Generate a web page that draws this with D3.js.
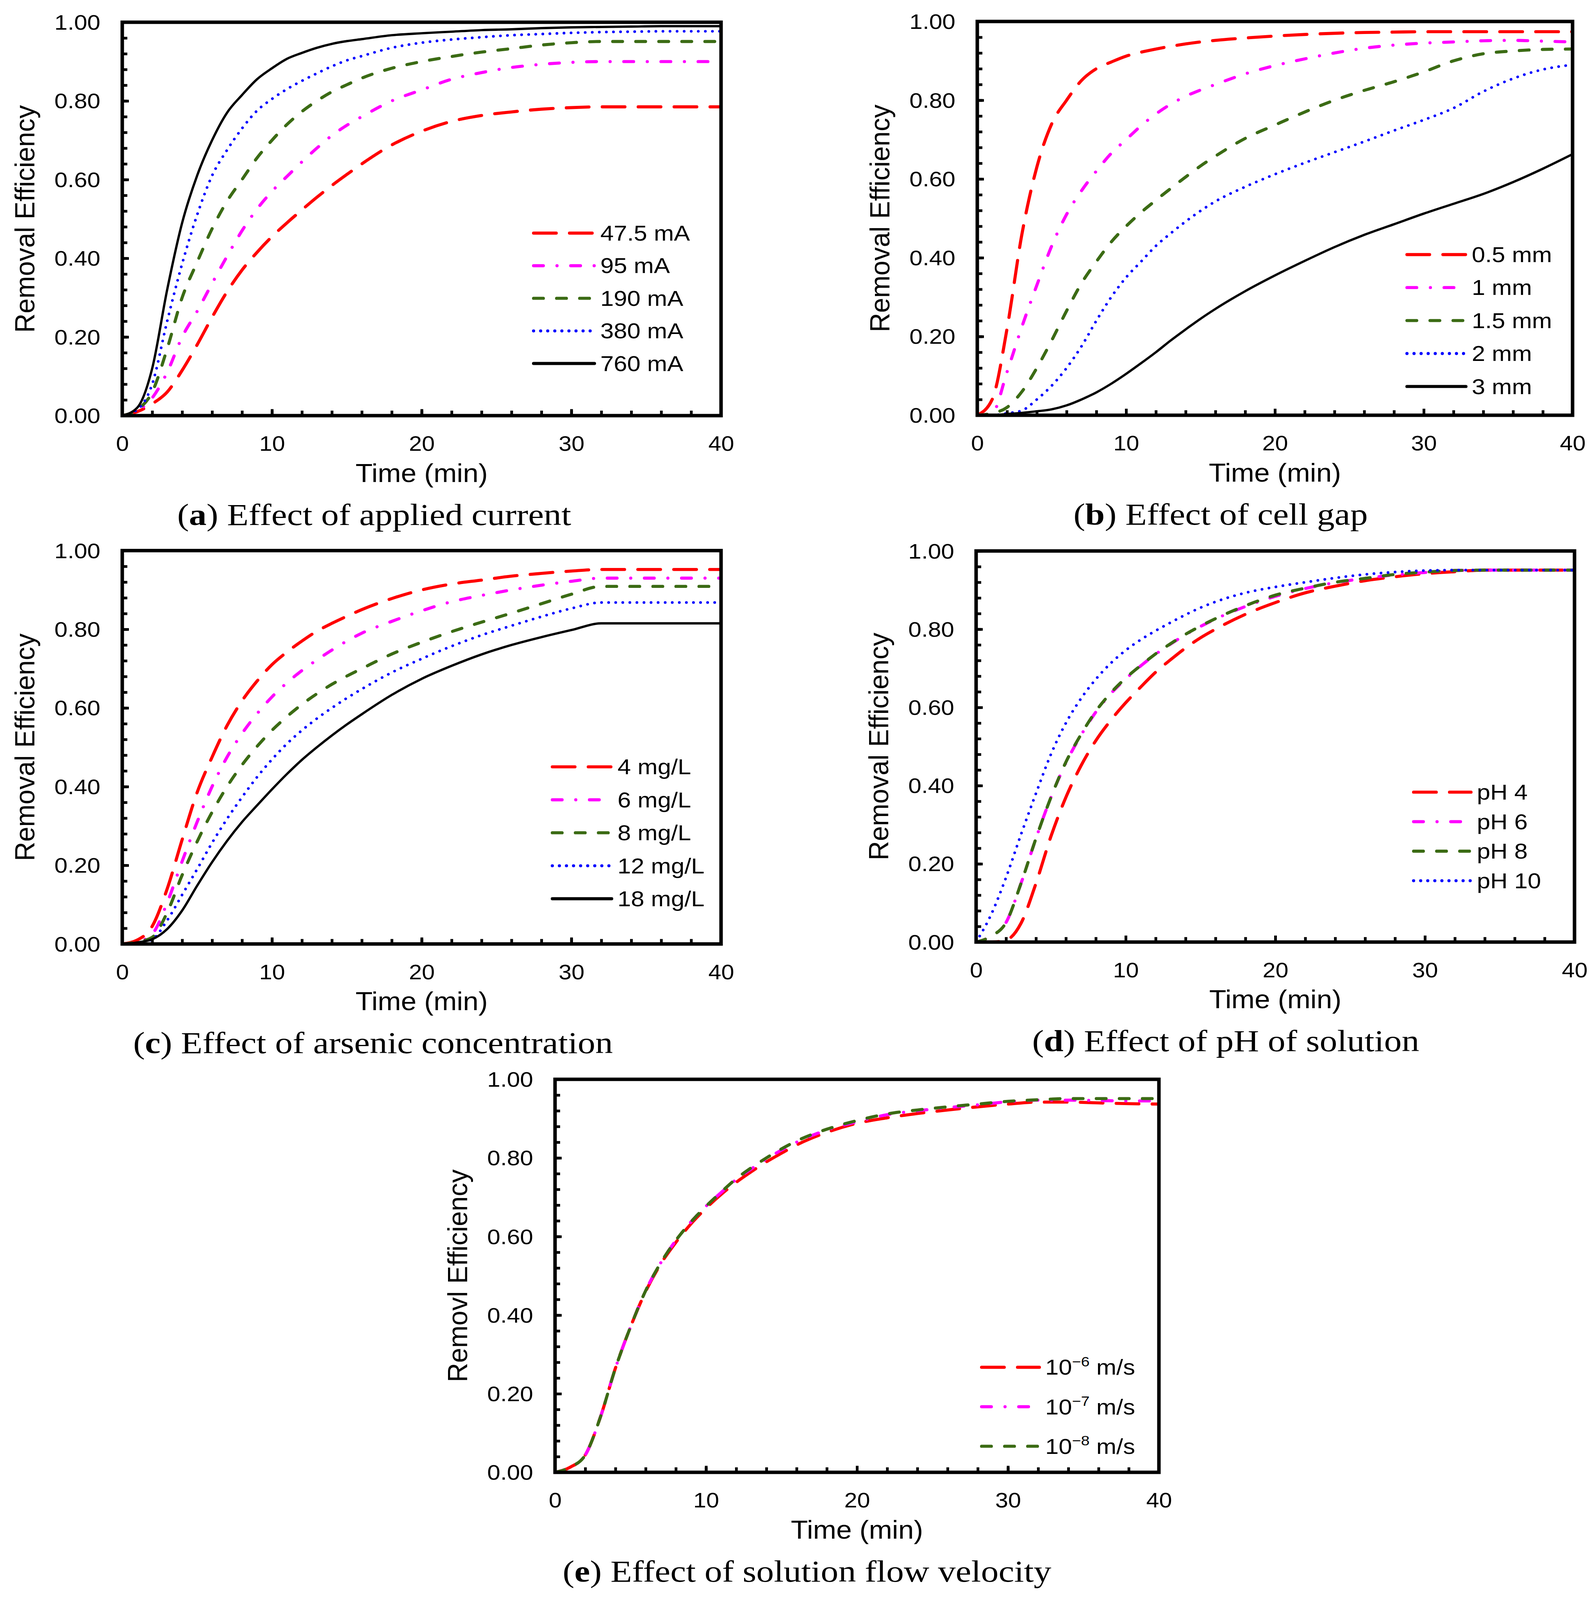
<!DOCTYPE html>
<html>
<head>
<meta charset="utf-8">
<script src="https://cdn.jsdelivr.net/npm/d3@7"></script>
<style>
html, body { margin: 0; padding: 0; background: #fff; overflow: hidden; }
svg { display: block; }
</style>
</head>
<body>
<div class="figure"></div>
<script>
// sample times shared by every panel (min)
const times = [0,1,2,3,4,5,6,7,8,9,10,11,12,13,14,15,16,18,20,22,24,26,28,30,32,34,36,38,40];

// (a) applied current
const currentLabels = ["47.5 mA", "95 mA", "190 mA", "380 mA", "760 mA"];
const current475 = [0,0.01,0.03,0.06,0.115,0.18,0.25,0.315,0.37,0.415,0.455,0.49,0.523,0.555,0.585,0.613,0.64,0.688,0.723,0.748,0.763,0.772,0.779,0.783,0.785,0.785,0.785,0.785,0.785];
const current95  = [0,0.012,0.045,0.11,0.2,0.265,0.336,0.405,0.47,0.525,0.57,0.608,0.645,0.68,0.712,0.738,0.76,0.8,0.828,0.855,0.872,0.885,0.893,0.898,0.9,0.9,0.9,0.9,0.9];
const current190 = [0,0.015,0.06,0.17,0.3,0.39,0.475,0.545,0.6,0.655,0.7,0.74,0.773,0.8,0.823,0.841,0.858,0.883,0.9,0.913,0.924,0.933,0.942,0.948,0.951,0.951,0.951,0.951,0.951];
const current380 = [0,0.015,0.08,0.24,0.386,0.51,0.61,0.675,0.73,0.775,0.805,0.83,0.851,0.87,0.888,0.903,0.914,0.935,0.948,0.956,0.962,0.967,0.97,0.973,0.975,0.976,0.977,0.977,0.977];
const current760 = [0,0.02,0.12,0.32,0.49,0.61,0.7,0.77,0.815,0.855,0.883,0.907,0.922,0.935,0.945,0.952,0.957,0.967,0.972,0.976,0.98,0.982,0.985,0.987,0.988,0.989,0.99,0.99,0.99];

// (b) cell gap
const gapLabels = ["0.5 mm", "1 mm", "1.5 mm", "2 mm", "3 mm"];
const gap05 = [0,0.04,0.22,0.46,0.63,0.74,0.8,0.85,0.88,0.897,0.912,0.922,0.93,0.937,0.943,0.948,0.952,0.958,0.963,0.967,0.97,0.972,0.973,0.974,0.974,0.974,0.974,0.974,0.974];
const gap1  = [0,0.005,0.11,0.225,0.33,0.43,0.51,0.57,0.62,0.665,0.7,0.735,0.765,0.79,0.81,0.826,0.84,0.867,0.888,0.905,0.92,0.932,0.94,0.945,0.948,0.951,0.952,0.95,0.948];
const gap15 = [0,0.005,0.02,0.06,0.12,0.19,0.265,0.335,0.39,0.44,0.48,0.515,0.546,0.576,0.605,0.633,0.658,0.703,0.737,0.77,0.8,0.825,0.847,0.872,0.9,0.918,0.925,0.929,0.93];
const gap2  = [0,0,0.005,0.012,0.04,0.075,0.12,0.175,0.24,0.3,0.35,0.39,0.43,0.462,0.492,0.519,0.543,0.58,0.612,0.641,0.668,0.695,0.723,0.75,0.78,0.822,0.855,0.878,0.89];
const gap3  = [0,0,0.003,0.006,0.01,0.015,0.025,0.04,0.058,0.08,0.105,0.132,0.16,0.19,0.218,0.245,0.27,0.315,0.355,0.392,0.427,0.458,0.485,0.512,0.537,0.562,0.592,0.626,0.663];

// (c) arsenic concentration
const concLabels = ["4 mg/L", "6 mg/L", "8 mg/L", "12 mg/L", "18 mg/L"];
const conc4  = [0,0.01,0.045,0.14,0.265,0.385,0.475,0.555,0.618,0.668,0.71,0.742,0.77,0.795,0.815,0.833,0.85,0.878,0.9,0.915,0.925,0.935,0.942,0.948,0.952,0.952,0.952,0.952,0.952];
const conc6  = [0,0.005,0.025,0.105,0.21,0.31,0.4,0.475,0.535,0.585,0.628,0.664,0.695,0.722,0.747,0.77,0.79,0.82,0.847,0.87,0.886,0.9,0.912,0.922,0.93,0.93,0.93,0.93,0.93];
const conc8  = [0,0.005,0.017,0.08,0.175,0.26,0.335,0.4,0.455,0.502,0.543,0.578,0.609,0.636,0.66,0.681,0.7,0.737,0.767,0.794,0.818,0.841,0.865,0.889,0.909,0.909,0.909,0.909,0.909];
const conc12 = [0,0.003,0.012,0.06,0.125,0.19,0.257,0.318,0.373,0.424,0.469,0.509,0.543,0.573,0.6,0.625,0.648,0.69,0.725,0.757,0.785,0.809,0.832,0.853,0.868,0.868,0.868,0.868,0.868];
const conc18 = [0,0.004,0.012,0.038,0.085,0.148,0.208,0.262,0.31,0.352,0.393,0.432,0.468,0.5,0.53,0.558,0.584,0.633,0.674,0.707,0.736,0.76,0.78,0.798,0.815,0.815,0.815,0.815,0.815];

// (d) pH of solution
const phLabels = ["pH 4", "pH 6", "pH 8", "pH 10"];
const ph4  = [0,0,0.005,0.048,0.15,0.27,0.37,0.45,0.515,0.567,0.612,0.652,0.69,0.722,0.752,0.778,0.8,0.838,0.868,0.893,0.91,0.924,0.934,0.942,0.947,0.951,0.951,0.951,0.951];
const ph6  = [0,0.015,0.05,0.15,0.265,0.37,0.458,0.528,0.588,0.635,0.673,0.706,0.736,0.762,0.786,0.807,0.826,0.858,0.884,0.904,0.919,0.93,0.939,0.945,0.95,0.951,0.951,0.951,0.951];
const ph8  = [0,0.015,0.05,0.15,0.265,0.37,0.46,0.53,0.59,0.637,0.675,0.707,0.737,0.763,0.787,0.808,0.827,0.86,0.887,0.905,0.92,0.93,0.94,0.946,0.95,0.951,0.951,0.951,0.951];
const ph10 = [0,0.07,0.165,0.275,0.38,0.48,0.56,0.622,0.672,0.713,0.746,0.773,0.796,0.817,0.837,0.855,0.87,0.893,0.908,0.92,0.931,0.94,0.946,0.95,0.951,0.951,0.951,0.951,0.951];

// (e) solution flow velocity
const velocityLabels = ["10^\u22126 m/s", "10^\u22127 m/s", "10^\u22128 m/s"];
const vel6 = [0,0.013,0.044,0.14,0.265,0.37,0.46,0.53,0.585,0.632,0.672,0.707,0.738,0.765,0.79,0.812,0.833,0.865,0.888,0.902,0.913,0.922,0.93,0.937,0.942,0.942,0.94,0.938,0.937];
const vel7 = [0,0.013,0.044,0.14,0.265,0.37,0.462,0.533,0.59,0.637,0.677,0.712,0.745,0.772,0.797,0.82,0.84,0.871,0.892,0.91,0.92,0.928,0.935,0.943,0.947,0.947,0.946,0.945,0.945];
const vel8 = [0,0.013,0.044,0.14,0.265,0.37,0.462,0.533,0.59,0.637,0.677,0.713,0.747,0.775,0.8,0.823,0.843,0.873,0.895,0.912,0.922,0.93,0.937,0.944,0.948,0.951,0.951,0.951,0.951];

const xMajor = [0, 10, 20, 30, 40];
const yMajor = [0, 0.2, 0.4, 0.6, 0.8, 1.0];

const SANS = "'Liberation Sans', Arial, sans-serif";
const SERIF = "'Liberation Serif', 'Times New Roman', serif";

// line look per series slot
const styles = [
    {color: "#ff0000", width: 8, dash: "58,34"},
    {color: "#ff00ff", width: 8, dash: "25,35,0.1,35"},
    {color: "#3b6b14", width: 8, dash: "25,34"},
    {color: "#0000ff", width: 7, dash: "0.1,18"},
    {color: "#000000", width: 6, dash: null}
];

const panels = [
    {tag: "a", caption: " Effect of applied current", yTitle: "Removal Efficiency",
     labels: currentLabels, series: [current475, current95, current190, current380, current760],
     left: 313, right: 1846, top: 58, bottom: 1084, captionX: 958,
     legX1: 1366, legX2: 1522, legTop: 608, legStep: 85},
    {tag: "b", caption: " Effect of cell gap", yTitle: "Removal Efficiency",
     labels: gapLabels, series: [gap05, gap1, gap15, gap2, gap3],
     left: 2502, right: 4026, top: 56, bottom: 1083, captionX: 3125,
     legX1: 3602, legX2: 3753, legTop: 664, legStep: 86},
    {tag: "c", caption: " Effect of arsenic concentration", yTitle: "Removal Efficiency",
     labels: concLabels, series: [conc4, conc6, conc8, conc12, conc18],
     left: 313, right: 1846, top: 1436, bottom: 2462, captionX: 955,
     legX1: 1414, legX2: 1566, legTop: 2000, legStep: 86},
    {tag: "d", caption: " Effect of pH of solution", yTitle: "Removal Efficiency",
     labels: phLabels, series: [ph4, ph6, ph8, ph10],
     left: 2499, right: 4031, top: 1437, bottom: 2457, captionX: 3138,
     legX1: 3619, legX2: 3766, legTop: 2066, legStep: 77},
    {tag: "e", caption: " Effect of solution flow velocity", yTitle: "Removl Efficiency",
     labels: velocityLabels, series: [vel6, vel7, vel8],
     left: 1421, right: 2967, top: 2815, bottom: 3840, captionX: 2066,
     legX1: 2513, legX2: 2661, legTop: 3566, legStep: 103}
];

// fit the 4086 x 4173 drawing into whatever the viewport really is
const W = window.innerWidth || 4086;
const H = window.innerHeight || 4173;

const svg = d3.select(".figure").append("svg")
    .attr("width", W)
    .attr("height", H)
    .attr("viewBox", "0 0 4086 4173")
    .attr("preserveAspectRatio", "none");

svg.append("rect").attr("width", 4086).attr("height", 4173).attr("fill", "#fff");

function styleLine(sel, st){
    sel.attr("fill", "none")
        .attr("stroke", st.color)
        .attr("stroke-width", st.width)
        .attr("stroke-dasharray", st.dash)
        .attr("stroke-linecap", "round")
        .attr("stroke-linejoin", "round");
}

function addLabel(sel, label){
    const m = label.match(/^(.*)\^(\S+)(.*)$/);
    if(!m){ sel.text(label); return; }
    sel.append("tspan").text(m[1]);
    sel.append("tspan").attr("dy", -22).attr("font-size", 36).text(m[2]);
    sel.append("tspan").attr("dy", 22).text(m[3]);
}

function styleTicks(axisG){
    axisG.select(".domain").remove();
    axisG.selectAll("line").attr("stroke", "#000").attr("stroke-width", 7);
}

function drawPanel(p){
    const g = svg.append("g");

    const x = d3.scaleLinear().domain([0, 40]).range([p.left, p.right]);
    const y = d3.scaleLinear().domain([0, 1]).range([p.bottom, p.top]);

    const line = d3.line()
        .x((d, i) => x(times[i]))
        .y(d => y(d))
        .curve(d3.curveMonotoneX);

    // curves
    p.series.forEach((s, i) => {
        g.append("path").attr("d", line(s)).call(styleLine, styles[i]);
    });

    // minor ticks
    g.append("g")
        .attr("transform", "translate(" + p.left + ",0)")
        .call(d3.axisLeft(y).tickValues(d3.range(0, 1.001, 0.04)).tickSize(-13).tickFormat(""))
        .call(styleTicks);
    g.append("g")
        .attr("transform", "translate(0," + p.bottom + ")")
        .call(d3.axisBottom(x).tickValues(d3.range(0, 41, 2)).tickSize(-13).tickFormat(""))
        .call(styleTicks);

    // major ticks with labels
    const yAxis = g.append("g")
        .attr("transform", "translate(" + p.left + ",0)")
        .call(d3.axisLeft(y).tickValues(yMajor).tickSize(-17).tickFormat(d3.format(".2f")))
        .call(styleTicks);
    yAxis.selectAll("text")
        .attr("x", 0).attr("y", 0).attr("dy", "0.35em")
        .attr("transform", "translate(-56,0) scale(1.12,1)")
        .attr("text-anchor", "end")
        .attr("font-family", SANS).attr("font-size", 54).attr("fill", "#000");

    const xAxis = g.append("g")
        .attr("transform", "translate(0," + p.bottom + ")")
        .call(d3.axisBottom(x).tickValues(xMajor).tickSize(-17).tickFormat(d3.format("d")))
        .call(styleTicks);
    xAxis.selectAll("text")
        .attr("x", 0).attr("y", 0).attr("dy", "0.35em")
        .attr("transform", "translate(0,73) scale(1.1,1)")
        .attr("font-family", SANS).attr("font-size", 54).attr("fill", "#000");

    // frame
    g.append("rect")
        .attr("x", p.left).attr("y", p.top)
        .attr("width", p.right - p.left).attr("height", p.bottom - p.top)
        .attr("fill", "none").attr("stroke", "#000").attr("stroke-width", 9);

    // axis titles
    g.append("text")
        .attr("transform", "translate(" + (p.left - 250) + "," + ((p.top + p.bottom) / 2) + ") rotate(-90)")
        .attr("dy", "0.35em").attr("text-anchor", "middle")
        .attr("font-family", SANS).attr("font-size", 70)
        .text(p.yTitle);

    g.append("text")
        .attr("transform", "translate(" + ((p.left + p.right) / 2) + "," + (p.bottom + 149) + ") scale(1.05,1)")
        .attr("dy", "0.35em").attr("text-anchor", "middle")
        .attr("font-family", SANS).attr("font-size", 68)
        .text("Time (min)");

    // legend
    p.labels.forEach((lab, i) => {
        const ly = p.legTop + i * p.legStep;
        g.append("line")
            .attr("x1", p.legX1).attr("x2", p.legX2)
            .attr("y1", ly).attr("y2", ly)
            .call(styleLine, Object.assign({}, styles[i], {width: 8}));
        const t = g.append("text")
            .attr("transform", "translate(" + (p.legX2 + 15) + "," + ly + ") scale(1.1,1)")
            .attr("dy", "0.35em")
            .attr("font-family", SANS).attr("font-size", 56);
        addLabel(t, lab);
    });

    // caption
    const cap = g.append("text")
        .attr("transform", "translate(" + p.captionX + "," + (p.bottom + 285) + ") scale(1.14,1)")
        .attr("text-anchor", "middle")
        .attr("font-family", SERIF).attr("font-size", 79);
    cap.append("tspan").text("(");
    cap.append("tspan").attr("font-weight", "bold").text(p.tag);
    cap.append("tspan").text(")" + p.caption);
}

panels.forEach(drawPanel);
</script>
</body>
</html>
